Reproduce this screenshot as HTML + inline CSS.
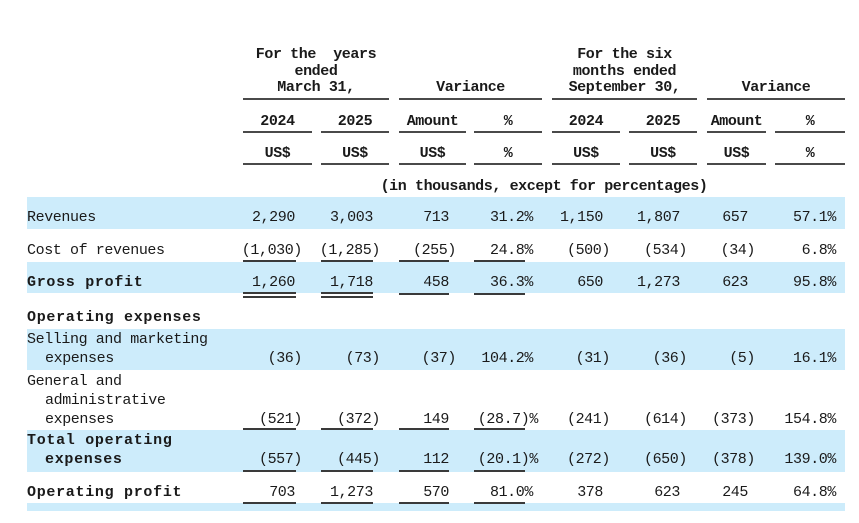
<!DOCTYPE html>
<html>
<head>
<meta charset="utf-8">
<style>
html,body{margin:0;padding:0;background:#fff;}
#c{position:relative;width:859px;height:523px;overflow:hidden;background:#fff;
  font-family:"Liberation Mono","Noto Sans CJK SC",monospace;color:#1a1a1a;}
.t{position:absolute;white-space:pre;font-size:15px;line-height:16px;letter-spacing:-0.4px;}
.b{font-weight:bold;}
.lb{font-weight:bold;letter-spacing:0.7px;}
.band{position:absolute;left:27px;width:818px;background:#cdecfb;}
.hl{position:absolute;height:2px;background:#4a4a4a;}
.ul{position:absolute;height:2px;background:#3a3a3a;}
.ctr{text-align:center;}
</style>
</head>
<body>
<div id="c">
<!-- bands -->
<div class="band" style="top:197px;height:32px;"></div>
<div class="band" style="top:262px;height:31px;"></div>
<div class="band" style="top:329px;height:41px;"></div>
<div class="band" style="top:430px;height:42px;"></div>
<div class="band" style="top:503px;height:8px;"></div>

<!-- header group text -->
<div class="t b ctr" style="left:243px;width:146px;top:46.5px;">For the  years</div>
<div class="t b ctr" style="left:243px;width:146px;top:63.5px;">ended</div>
<div class="t b ctr" style="left:243px;width:146px;top:79.5px;">March 31,</div>
<div class="t b ctr" style="left:399px;width:143px;top:79.5px;">Variance</div>
<div class="t b ctr" style="left:552px;width:145px;top:46.5px;">For the six</div>
<div class="t b ctr" style="left:552px;width:145px;top:63.5px;">months ended</div>
<div class="t b ctr" style="left:552px;width:145px;top:79.5px;">September 30,</div>
<div class="t b ctr" style="left:707px;width:138px;top:79.5px;">Variance</div>
<div class="hl" style="top:98px;left:243px;width:146px;"></div>
<div class="hl" style="top:98px;left:399px;width:143px;"></div>
<div class="hl" style="top:98px;left:552px;width:145px;"></div>
<div class="hl" style="top:98px;left:707px;width:138px;"></div>

<!-- year row -->
<div class="t b ctr" style="left:243px;width:69px;top:113.5px;">2024</div>
<div class="t b ctr" style="left:321px;width:68px;top:113.5px;">2025</div>
<div class="t b ctr" style="left:399px;width:67px;top:113.5px;">Amount</div>
<div class="t b ctr" style="left:474px;width:68px;top:113.5px;">%</div>
<div class="t b ctr" style="left:552px;width:68px;top:113.5px;">2024</div>
<div class="t b ctr" style="left:629px;width:68px;top:113.5px;">2025</div>
<div class="t b ctr" style="left:707px;width:59px;top:113.5px;">Amount</div>
<div class="t b ctr" style="left:775px;width:70px;top:113.5px;">%</div>
<div class="hl" style="top:131px;left:243px;width:69px;"></div>
<div class="hl" style="top:131px;left:321px;width:68px;"></div>
<div class="hl" style="top:131px;left:399px;width:67px;"></div>
<div class="hl" style="top:131px;left:474px;width:68px;"></div>
<div class="hl" style="top:131px;left:552px;width:68px;"></div>
<div class="hl" style="top:131px;left:629px;width:68px;"></div>
<div class="hl" style="top:131px;left:707px;width:59px;"></div>
<div class="hl" style="top:131px;left:775px;width:70px;"></div>

<!-- currency row -->
<div class="t b ctr" style="left:243px;width:69px;top:145.5px;">US$</div>
<div class="t b ctr" style="left:321px;width:68px;top:145.5px;">US$</div>
<div class="t b ctr" style="left:399px;width:67px;top:145.5px;">US$</div>
<div class="t b ctr" style="left:474px;width:68px;top:145.5px;">%</div>
<div class="t b ctr" style="left:552px;width:68px;top:145.5px;">US$</div>
<div class="t b ctr" style="left:629px;width:68px;top:145.5px;">US$</div>
<div class="t b ctr" style="left:707px;width:59px;top:145.5px;">US$</div>
<div class="t b ctr" style="left:775px;width:70px;top:145.5px;">%</div>
<div class="hl" style="top:163px;left:243px;width:69px;"></div>
<div class="hl" style="top:163px;left:321px;width:68px;"></div>
<div class="hl" style="top:163px;left:399px;width:67px;"></div>
<div class="hl" style="top:163px;left:474px;width:68px;"></div>
<div class="hl" style="top:163px;left:552px;width:68px;"></div>
<div class="hl" style="top:163px;left:629px;width:68px;"></div>
<div class="hl" style="top:163px;left:707px;width:59px;"></div>
<div class="hl" style="top:163px;left:775px;width:70px;"></div>

<div class="t b ctr" style="left:243px;width:602px;top:178.5px;">(in thousands, except for percentages)</div>

<!-- Revenues -->
<div class="t" style="left:27px;top:209.5px;">Revenues</div>
<div class="t" style="right:564px;top:209.5px;">2,290</div>
<div class="t" style="right:486px;top:209.5px;">3,003</div>
<div class="t" style="right:410px;top:209.5px;">713</div>
<div class="t" style="right:326px;top:209.5px;">31.2%</div>
<div class="t" style="right:256px;top:209.5px;">1,150</div>
<div class="t" style="right:179px;top:209.5px;">1,807</div>
<div class="t" style="right:111px;top:209.5px;">657</div>
<div class="t" style="right:23px;top:209.5px;">57.1%</div>

<!-- Cost of revenues -->
<div class="t" style="left:27px;top:242.5px;">Cost of revenues</div>
<div class="t" style="right:557px;top:242.5px;">(1,030)</div>
<div class="t" style="right:479px;top:242.5px;">(1,285)</div>
<div class="t" style="right:403px;top:242.5px;">(255)</div>
<div class="t" style="right:326px;top:242.5px;">24.8%</div>
<div class="t" style="right:249px;top:242.5px;">(500)</div>
<div class="t" style="right:172px;top:242.5px;">(534)</div>
<div class="t" style="right:104px;top:242.5px;">(34)</div>
<div class="t" style="right:23px;top:242.5px;">6.8%</div>
<div class="ul" style="top:260px;left:243px;width:53px;"></div>
<div class="ul" style="top:260px;left:321px;width:52px;"></div>
<div class="ul" style="top:260px;left:399px;width:50px;"></div>
<div class="ul" style="top:260px;left:474px;width:51px;"></div>

<!-- Gross profit -->
<div class="t lb" style="left:27px;top:274.5px;">Gross profit</div>
<div class="t" style="right:564px;top:274.5px;">1,260</div>
<div class="t" style="right:486px;top:274.5px;">1,718</div>
<div class="t" style="right:410px;top:274.5px;">458</div>
<div class="t" style="right:326px;top:274.5px;">36.3%</div>
<div class="t" style="right:256px;top:274.5px;">650</div>
<div class="t" style="right:179px;top:274.5px;">1,273</div>
<div class="t" style="right:111px;top:274.5px;">623</div>
<div class="t" style="right:23px;top:274.5px;">95.8%</div>
<div class="ul" style="top:292px;left:243px;width:53px;height:1.5px;"></div>
<div class="ul" style="top:296px;left:243px;width:53px;height:1.5px;"></div>
<div class="ul" style="top:292px;left:321px;width:52px;height:1.5px;"></div>
<div class="ul" style="top:296px;left:321px;width:52px;height:1.5px;"></div>
<div class="ul" style="top:293px;left:399px;width:50px;"></div>
<div class="ul" style="top:293px;left:474px;width:51px;"></div>

<!-- Operating expenses -->
<div class="t lb" style="left:27px;top:309.5px;">Operating expenses</div>

<!-- Selling -->
<div class="t" style="left:27px;top:331.5px;">Selling and marketing</div>
<div class="t" style="left:45px;top:350.5px;">expenses</div>
<div class="t" style="right:557px;top:350.5px;">(36)</div>
<div class="t" style="right:479px;top:350.5px;">(73)</div>
<div class="t" style="right:403px;top:350.5px;">(37)</div>
<div class="t" style="right:326px;top:350.5px;">104.2%</div>
<div class="t" style="right:249px;top:350.5px;">(31)</div>
<div class="t" style="right:172px;top:350.5px;">(36)</div>
<div class="t" style="right:104px;top:350.5px;">(5)</div>
<div class="t" style="right:23px;top:350.5px;">16.1%</div>

<!-- G&A -->
<div class="t" style="left:27px;top:373.5px;">General and</div>
<div class="t" style="left:45px;top:392.5px;">administrative</div>
<div class="t" style="left:45px;top:411.5px;">expenses</div>
<div class="t" style="right:557px;top:411.5px;">(521)</div>
<div class="t" style="right:479px;top:411.5px;">(372)</div>
<div class="t" style="right:410px;top:411.5px;">149</div>
<div class="t" style="right:321px;top:411.5px;">(28.7)%</div>
<div class="t" style="right:249px;top:411.5px;">(241)</div>
<div class="t" style="right:172px;top:411.5px;">(614)</div>
<div class="t" style="right:104px;top:411.5px;">(373)</div>
<div class="t" style="right:23px;top:411.5px;">154.8%</div>
<div class="ul" style="top:428px;left:243px;width:53px;"></div>
<div class="ul" style="top:428px;left:321px;width:52px;"></div>
<div class="ul" style="top:428px;left:399px;width:50px;"></div>
<div class="ul" style="top:428px;left:474px;width:51px;"></div>

<!-- Total operating expenses -->
<div class="t lb" style="left:27px;top:432.5px;">Total operating</div>
<div class="t lb" style="left:45px;top:451.5px;">expenses</div>
<div class="t" style="right:557px;top:451.5px;">(557)</div>
<div class="t" style="right:479px;top:451.5px;">(445)</div>
<div class="t" style="right:410px;top:451.5px;">112</div>
<div class="t" style="right:321px;top:451.5px;">(20.1)%</div>
<div class="t" style="right:249px;top:451.5px;">(272)</div>
<div class="t" style="right:172px;top:451.5px;">(650)</div>
<div class="t" style="right:104px;top:451.5px;">(378)</div>
<div class="t" style="right:23px;top:451.5px;">139.0%</div>
<div class="ul" style="top:470px;left:243px;width:53px;"></div>
<div class="ul" style="top:470px;left:321px;width:52px;"></div>
<div class="ul" style="top:470px;left:399px;width:50px;"></div>
<div class="ul" style="top:470px;left:474px;width:51px;"></div>

<!-- Operating profit -->
<div class="t lb" style="left:27px;top:484.5px;">Operating profit</div>
<div class="t" style="right:564px;top:484.5px;">703</div>
<div class="t" style="right:486px;top:484.5px;">1,273</div>
<div class="t" style="right:410px;top:484.5px;">570</div>
<div class="t" style="right:326px;top:484.5px;">81.0%</div>
<div class="t" style="right:256px;top:484.5px;">378</div>
<div class="t" style="right:179px;top:484.5px;">623</div>
<div class="t" style="right:111px;top:484.5px;">245</div>
<div class="t" style="right:23px;top:484.5px;">64.8%</div>
<div class="ul" style="top:502px;left:243px;width:53px;"></div>
<div class="ul" style="top:502px;left:321px;width:52px;"></div>
<div class="ul" style="top:502px;left:399px;width:50px;"></div>
<div class="ul" style="top:502px;left:474px;width:51px;"></div>
</div>
</body>
</html>
